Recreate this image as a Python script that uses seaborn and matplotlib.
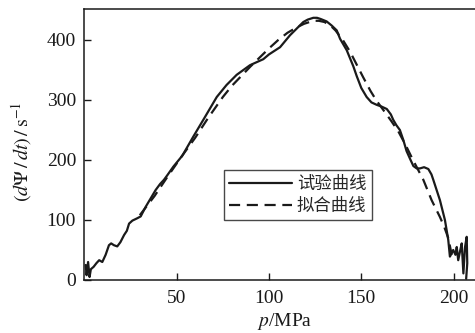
import numpy as np
import pandas as pd
import matplotlib
matplotlib.use("Agg")
import matplotlib.pyplot as plt
import seaborn as sns

# experimental curve
p_exp = [0.7, 1.2, 2.0, 2.8, 3.5, 5.0, 6.5, 8.0, 9.7, 11.5, 13.3, 14.5, 16.0, 17.8, 19.5,
         21.5, 23.0, 24.2, 26.0, 28.7, 30.5, 32.0, 33.2, 35.9, 38.6, 41.0, 43.1, 45.0,
         48.2, 53.0, 59.0, 65.0, 71.7, 77.0, 82.5, 86.1, 89.7, 94.0, 96.9, 100.0, 103.0,
         106.0, 111.4, 115.0, 118.6, 121.0, 124.0, 126.0, 128.0, 131.2, 134.0, 136.7,
         138.5, 142.1, 145.7, 147.5, 150.0, 152.9, 155.5, 158.3, 161.0, 163.8, 166.0,
         167.3, 169.0, 170.9, 172.8, 174.5, 176.4, 178.2, 180.0, 181.8, 184.0, 186.3,
         188.0, 189.0, 190.8, 192.6, 195.3, 197.1, 198.0, 199.0, 199.8, 201.0, 201.7,
         202.5, 203.5, 204.4, 205.3, 206.2, 207.1, 207.4, 206.8]
r_exp = [25, 8, 30, 5, 18, 22, 28, 33, 30, 42, 58, 61, 58, 56, 63,
         75, 82, 94, 99, 103, 106, 115, 122, 136, 150, 160, 167, 175,
         189, 207, 239, 270, 305, 325, 342, 350, 358, 364, 368, 376, 382,
         388, 408, 419, 430, 434, 437, 437, 435, 431, 424, 416,
         402, 383, 356, 340, 320, 305, 296, 292, 289, 285, 276,
         267, 258, 250, 233, 215, 202, 190, 186, 186, 188, 185,
         176, 167, 150, 133, 100, 67, 39, 45, 50, 42, 55,
         33, 48, 61, 11, 55, 72, 28, 2]

# fitted curve
p_fit = [30, 38, 45, 52, 60, 67, 75, 80, 85, 90, 95, 100, 105, 110, 115, 119, 122, 125,
         127, 130, 133, 136, 140, 144, 147, 151, 155, 158, 162, 166, 170, 174, 178,
         183.6, 188.1, 192.6, 195, 197.1, 199.0]
r_fit = [108, 140, 172, 203, 237, 270, 305, 324, 340, 356, 371, 386, 400, 412, 421, 427,
         430, 432, 432, 430, 425, 416, 400, 380, 362, 338, 315, 300, 283, 266, 248, 225,
         200, 167, 133, 105, 88, 70, 42]

legend_labels = ["试验曲线", "拟合曲线"]
x_ticks = [50, 100, 150, 200]
y_ticks = [0, 100, 200, 300, 400]

sns.set_style("ticks")
plt.rcParams["font.family"] = ["Liberation Serif", "Noto Sans CJK SC", "DejaVu Sans"]
plt.rcParams["mathtext.fontset"] = "stix"

df_exp = pd.DataFrame({"p": p_exp, "r": r_exp})
df_fit = pd.DataFrame({"p": p_fit, "r": r_fit})

W, H = 475, 333
fig = plt.figure(figsize=(W / 100, H / 100), dpi=100)
left, bottom, top = 84.4, 280, 9
right = 477
aw, ah = right - left, bottom - top
ax = fig.add_axes([left / W, (H - bottom) / H, aw / W, ah / H])

sns.lineplot(data=df_exp, x="p", y="r", sort=False, ax=ax, color="#1a1a1a",
             linewidth=1.6, label=legend_labels[0], estimator=None)
sns.lineplot(data=df_fit, x="p", y="r", sort=False, ax=ax, color="#1a1a1a",
             linewidth=1.6, linestyle=(0, (5, 3)), label=legend_labels[1], estimator=None)

px_per_unit = 1.846
ax.set_xlim(0, aw / px_per_unit)
ax.set_ylim(0, ah / 0.6)
ax.set_xticks(x_ticks)
ax.set_yticks(y_ticks)
ax.tick_params(direction="in", length=5, width=1, labelsize=14, colors="#1a1a1a")
ax.tick_params(axis="x", pad=7)
ax.tick_params(axis="y", pad=6)
for s in ax.spines.values():
    s.set_linewidth(1.1)
    s.set_color("#1a1a1a")
ax.spines["right"].set_visible(False)

ax.set_xlabel(r"$p$/MPa", fontsize=14, color="#1a1a1a", va="center")
ax.xaxis.set_label_coords((285 - left) / aw, (bottom - 322) / ah)
ax.set_ylabel(r"$(d\mathit{\Psi}\,/\,dt)\,/\,\mathrm{s}^{-1}$", fontsize=14.5,
              color="#1a1a1a", va="center")
ax.yaxis.set_label_coords((22 - left) / aw, (bottom - 152) / ah)

leg = ax.legend(loc="upper left", bbox_to_anchor=((224 - left) / aw, (bottom - 170) / ah),
                borderaxespad=0, frameon=True,
                fancybox=False, edgecolor="#1a1a1a", handlelength=3.6,
                handletextpad=0.3, borderpad=0.3, labelspacing=0.2,
                prop={"family": ["Noto Sans CJK SC"], "size": 12.5})
leg.get_frame().set_linewidth(1.0)
leg.get_frame().set_facecolor("white")

fig.savefig("out.png", dpi=100)
